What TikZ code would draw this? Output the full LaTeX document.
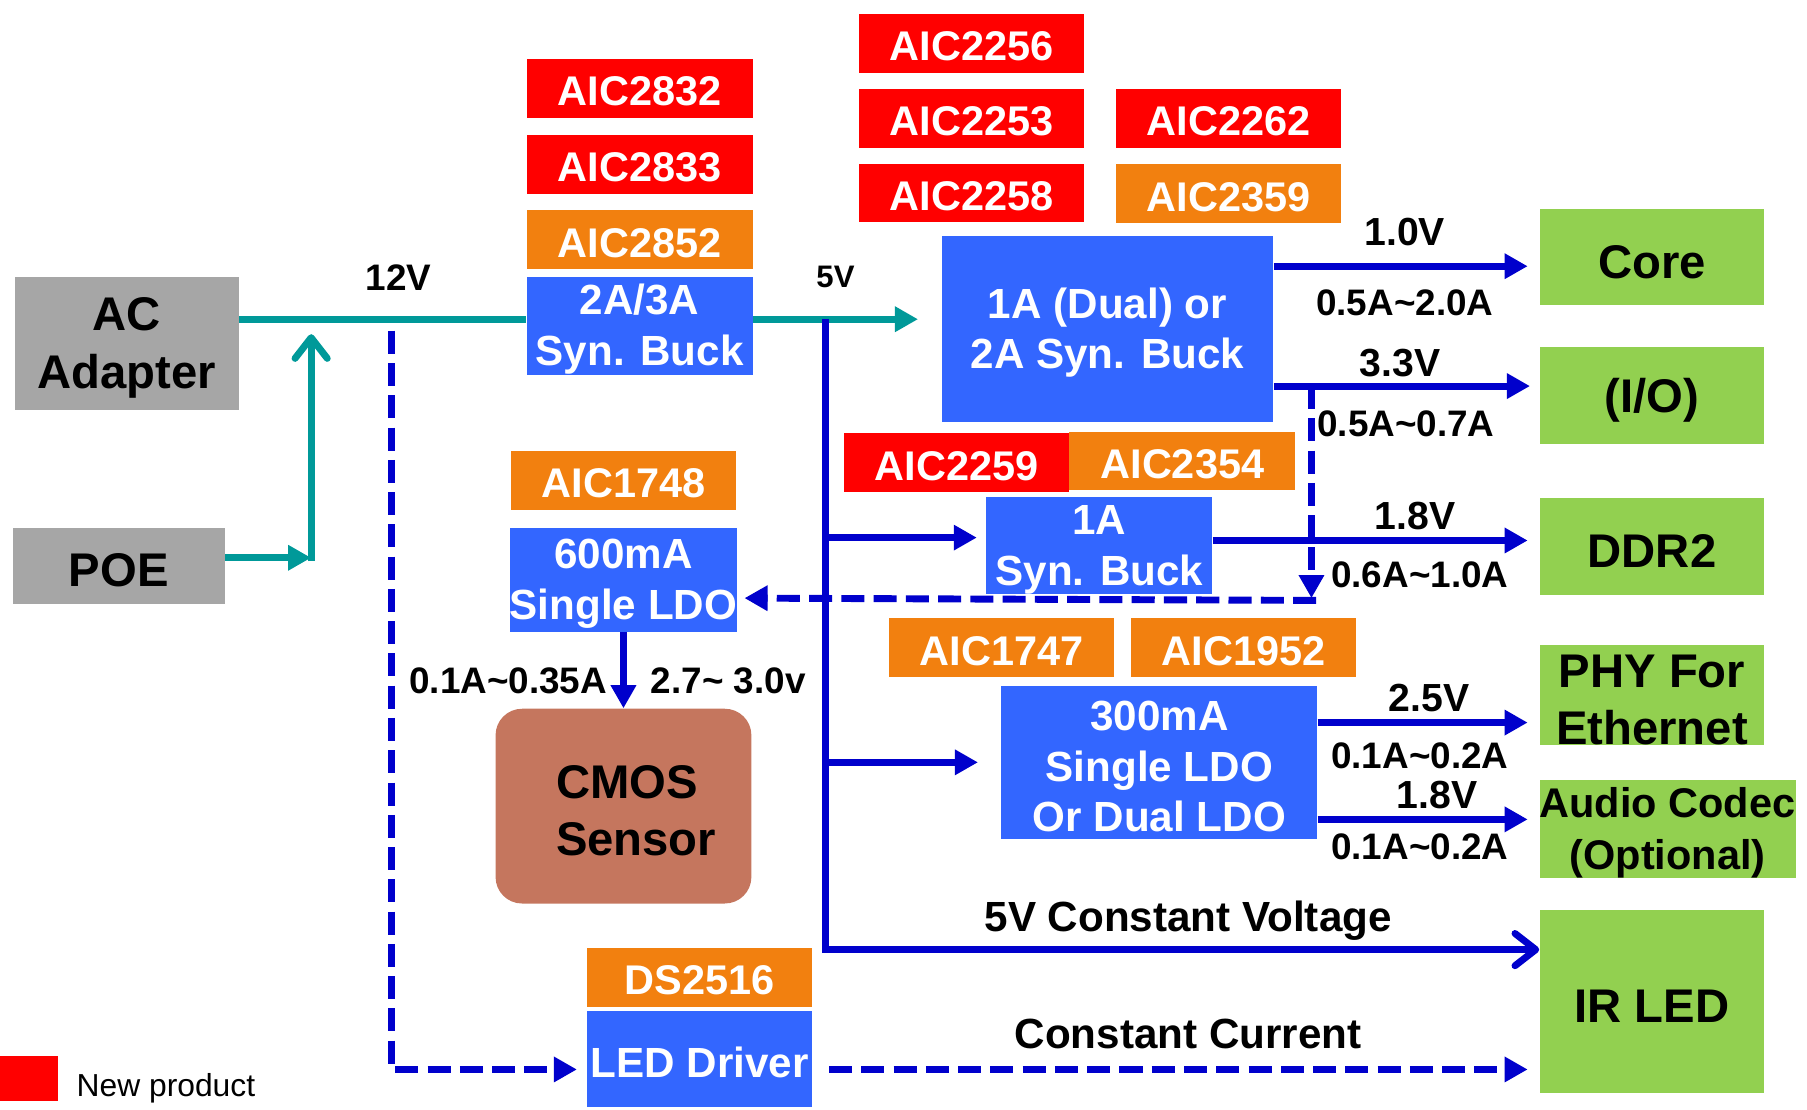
\documentclass[tikz,border=0pt]{standalone}
\usepackage{fontspec}
\setmainfont{Liberation Sans}
\usetikzlibrary{arrows.meta}

\definecolor{chipred}{HTML}{FF0000}
\definecolor{chiporange}{HTML}{F2800F}
\definecolor{boxblue}{HTML}{3366FF}
\definecolor{linkblue}{HTML}{0000CC}
\definecolor{feedteal}{HTML}{009999}
\definecolor{loadgreen}{HTML}{92D050}
\definecolor{srcgray}{HTML}{A6A6A6}
\definecolor{cmosbrown}{HTML}{C5765E}

\newcommand{\chipfont}{\fontsize{18}{21}\selectfont\bfseries}
\newcommand{\regfont}{\fontsize{18.3}{22}\selectfont\bfseries}
\newcommand{\loadfont}{\fontsize{20.5}{25}\selectfont\bfseries}
\newcommand{\voltfont}{\fontsize{17}{20}\selectfont\bfseries}
\newcommand{\ampfont}{\fontsize{16}{19}\selectfont\bfseries}
\newcommand{\tall}{\rule{0pt}{0.9em}}

\begin{document}
\begin{tikzpicture}[x=0.5pt, y=-0.5pt,
    lift/.style={execute at begin node={\rule{0pt}{#1}}},
    chip/.style={fill=#1, text=white, inner sep=0pt, minimum width=98pt,
        minimum height=25.5pt, font=\chipfont, lift=0.85em},
    reg/.style={fill=boxblue, text=white, inner sep=0pt, align=center, font=\regfont, lift=0.9em},
    load/.style={fill=loadgreen, inner sep=0pt, align=center, minimum width=97.5pt,
        minimum height=42pt, font=\loadfont, lift=0.9em},
    src/.style={fill=srcgray, inner sep=0pt, align=center, font=\loadfont, lift=0.9em},
    feed/.style={draw=feedteal, line width=3pt},
    pwr/.style={draw=linkblue, line width=3pt},
    dsh/.style={pwr, dash pattern=on 10pt off 4pt},
    tip/.style={-{Triangle[length=10pt,width=10.5pt]}},
    barb/.style={-{Straight Barb[length=9pt,width=14pt,round]}},
    volt/.style={font=\voltfont, inner sep=0pt},
    amp/.style={font=\ampfont, inner sep=0pt}]
    \useasboundingbox (0,0) rectangle (1568,963);

    % Fuentes de entrada
    \node[src, minimum width=97pt, minimum height=58pt] (ac) at (110,298) {\tall AC\\Adapter};
    \node[src, minimum width=92pt, minimum height=33pt] (poe) at (103,491) {POE};

    % Buck 12V -> 5V
    \node[chip=chipred] (a2832) at (555,76.5) {AIC2832};
    \node[chip=chipred] (a2833) at (555,142.5) {AIC2833};
    \node[chip=chiporange] (a2852) at (555,208) {AIC2852};
    \node[reg, minimum width=98pt, minimum height=42.5pt] (buckA) at (555,282.5) {\tall 2A/3A\\Syn. Buck};

    % Buck principal
    \node[chip=chipred] (a2256) at (843,37.5) {AIC2256};
    \node[chip=chipred] (a2253) at (843,102.5) {AIC2253};
    \node[chip=chipred] (a2258) at (843,167.5) {AIC2258};
    \node[chip=chipred] (a2262) at (1066,102.5) {AIC2262};
    \node[chip=chiporange] (a2359) at (1066,168) {AIC2359};
    \node[reg, minimum width=144pt, minimum height=80.5pt] (buckB) at (961,285.5) {\tall 1A (Dual) or\\2A Syn. Buck};

    % Buck 1A
    \node[chip=chipred] (a2259) at (830,401.5) {AIC2259};
    \node[chip=chiporange] (a2354) at (1026,400) {AIC2354};
    \node[reg, minimum width=98pt, minimum height=40.5pt] (buckC) at (954,473.5) {\tall 1A\\Syn. Buck};

    % LDO del sensor
    \node[chip=chiporange] (a1748) at (541,417) {AIC1748};
    \node[reg, minimum width=98pt, minimum height=45pt] (ldoA) at (541,503) {\tall 600mA\\Single LDO};
    \node[fill=cmosbrown, rounded corners=11.5pt, inner sep=0pt, align=left, font=\loadfont,
        minimum width=111pt, minimum height=84.5pt] (cmos) at (541,699.5)
        {\tall\hspace*{11pt}CMOS\\\hspace*{11pt}Sensor};

    % LDO 300mA
    \node[chip=chiporange] (a1747) at (869,562) {AIC1747};
    \node[chip=chiporange] (a1952) at (1079,562) {AIC1952};
    \node[reg, minimum width=137pt, minimum height=66.5pt] (ldoB) at (1006,661.5) {\tall 300mA\\Single LDO\\Or Dual LDO};

    % Driver LED
    \node[chip=chiporange] (ds2516) at (607,848) {DS2516};
    \node[reg, minimum width=98pt, minimum height=42pt] (led) at (607,919) {LED Driver};

    % Cargas
    \node[load] (core) at (1433.5,223) {Core};
    \node[load] (io) at (1433.5,343.5) {(I/O)};
    \node[load] (ddr) at (1433.5,474) {DDR2};
    \node[load] (phy) at (1433.5,603) {\tall PHY For\\Ethernet};
    \node[load, minimum width=111pt, minimum height=42.5pt, font=\fontsize{18}{22.5}\selectfont\bfseries]
        (audio) at (1447,719.5) {\tall Audio Codec\\(Optional)};
    \node[load, minimum height=79pt] (irled) at (1433.5,869) {IR LED};

    % Puntos de union
    \coordinate (j12) at (270,277);
    \coordinate (jpoe) at (270,484);
    \coordinate (d12) at (340,277);
    \coordinate (d12b) at (340,928);
    \coordinate (v5) at (716,277);
    \coordinate (v5b) at (716,824);
    \coordinate (t33) at (1138,335);
    \coordinate (t33b) at (1138,519);

    % Linea 12V
    \draw[feed] (ac.east |- j12) -- (buckA.west |- j12);
    \draw[feed, tip] (buckA.east |- j12) -- ([xshift=-10pt]buckB.west |- j12);
    \draw[feed, tip] (poe.east |- jpoe) -- (jpoe);
    \draw[feed, barb] ([yshift=-1.5pt]jpoe) -- ([yshift=-6.5pt]j12);
    \draw[dsh, tip] ([yshift=-5pt]d12) -- (d12b) -- ([xshift=-4pt]led.west |- d12b);
    \node[amp] (l12) at (346,241) {12V};

    % Linea 5V
    \draw[pwr, barb] (v5) -- (v5b) -- (irled.west |- v5b);
    \draw[pwr, tip] ([yshift=3.5pt]v5 |- buckC.west) -- ([xshift=-4pt,yshift=3.5pt]buckC.west);
    \draw[pwr, tip] (v5 |- ldoB.west) -- ([xshift=-10pt]ldoB.west);
    \node[font=\fontsize{13.5}{16}\selectfont\bfseries, inner sep=0pt] (l5) at (725,240) {5V};
    \node[font=\regfont, inner sep=0pt] (lcv) at (1031,799) {5V Constant Voltage};

    % Salidas
    \draw[pwr, tip] ([yshift=-4pt]buckB.east |- core.west) -- ([xshift=-5pt,yshift=-4pt]core.west);
    \node[volt] (l10) at (1219,201) {1.0V};
    \node[amp] (a10) at (1219,263) {0.5A\textasciitilde 2.0A};

    \draw[pwr, tip] ([yshift=4.25pt]buckB.east |- io.west) -- ([xshift=-4pt,yshift=4.25pt]io.west);
    \node[volt] (l33) at (1215,315) {3.3V};
    \node[amp] (a33) at (1220,368) {0.5A\textasciitilde 0.7A};

    \draw[dsh, tip] (t33) -- (t33b);
    \draw[dsh, tip] ([xshift=2pt,yshift=-1pt]t33b) -- ([xshift=3pt]ldoA.east |- t33b);

    \draw[pwr, tip] ([yshift=2.5pt]buckC.east |- ddr.west) -- ([xshift=-5pt,yshift=2.5pt]ddr.west);
    \node[volt] (l18) at (1228,448) {1.8V};
    \node[amp] (a18) at (1232,499) {0.6A\textasciitilde 1.0A};

    \draw[pwr, tip] ([yshift=-12pt]ldoB.east |- phy.west) -- ([xshift=-5pt,yshift=-12pt]phy.west);
    \node[volt] (l25) at (1240,606) {2.5V};
    \node[amp] (a25) at (1232,656) {0.1A\textasciitilde 0.2A};

    \draw[pwr, tip] ([yshift=4.25pt]ldoB.east |- audio.west) -- ([xshift=-5pt,yshift=4.25pt]audio.west);
    \node[volt] (l18b) at (1247,690) {1.8V};
    \node[amp] (a18b) at (1232,735) {0.1A\textasciitilde 0.2A};

    \draw[pwr, tip] (ldoA.south) -- (cmos.north);
    \node[amp] (acmos) at (441,591) {0.1A\textasciitilde 0.35A};
    \node[amp] (lcmos) at (632,591) {2.7\textasciitilde{} 3.0v};

    \draw[dsh, tip] ([xshift=7pt]led.east |- d12b) -- ([xshift=-5pt]irled.west |- d12b);
    \node[font=\regfont, inner sep=0pt] (lcc) at (1031,897) {Constant Current};

    % Leyenda
    \node[fill=chipred, minimum width=25pt, minimum height=19.5pt, inner sep=0pt] (newmark) at (25,935.5) {};
    \node[font=\fontsize{13.8}{16}\selectfont, inner sep=0pt] (lnew) at (144,944) {New product};
\end{tikzpicture}
\end{document}
